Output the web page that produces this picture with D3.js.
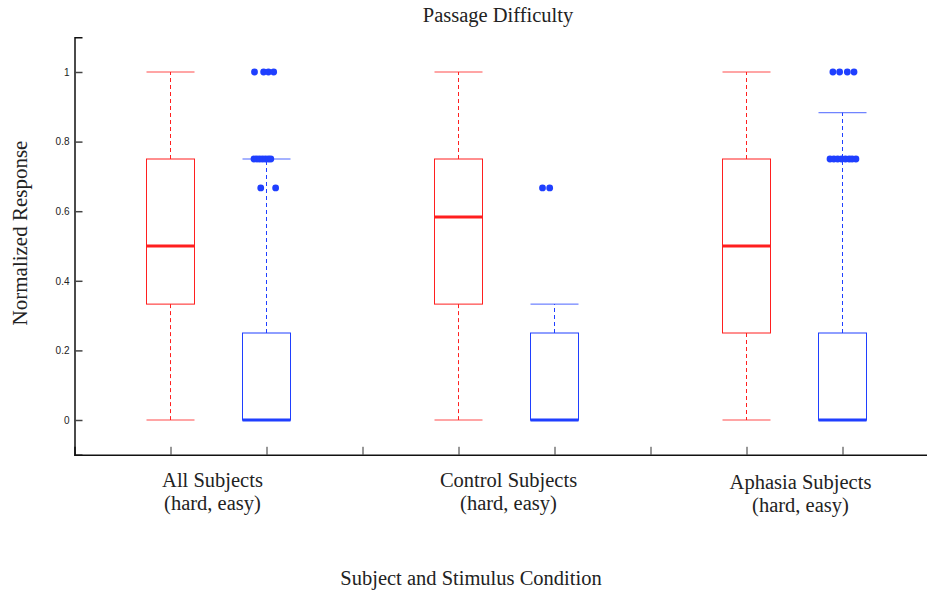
<!DOCTYPE html>
<html>
<head>
<meta charset="utf-8">
<script src="https://cdn.jsdelivr.net/npm/d3@7"></script>
<style>
  html, body { margin: 0; padding: 0; background: #fff; }
  svg { display: block; }
</style>
</head>
<body>
<svg id="chart" width="927" height="590"></svg>
<script>
// ---- Data ----
const groupLabels = ["All Subjects", "Control Subjects", "Aphasia Subjects"];
const groupSubLabel = "(hard, easy)";
const conditions = ["hard", "easy"];
// box positions on the x axis (category units)
const boxPositions = [1, 2, 4, 5, 7, 8];
const boxCondition = ["hard", "easy", "hard", "easy", "hard", "easy"];
const whiskerLow  = [0, 0, 0, 0, 0, 0];
const q1          = [0.333, 0, 0.333, 0, 0.25, 0];
const medians     = [0.5, 0, 0.583, 0, 0.5, 0];
const q3          = [0.75, 0.25, 0.75, 0.25, 0.75, 0.25];
const whiskerHigh = [1, 0.75, 1, 0.333, 1, 0.883];
// outliers: [box index, value, jitter (category units)]
const outlierBox    = [1,1,1,1, 1,1,1,1,1,1,1, 1,1, 3,3, 5,5,5,5, 5,5,5,5,5,5,5,5];
const outlierValue  = [1,1,1,1, 0.75,0.75,0.75,0.75,0.75,0.75,0.75, 0.667,0.667, 0.667,0.667, 1,1,1,1, 0.75,0.75,0.75,0.75,0.75,0.75,0.75,0.75];
const outlierJitter = [-0.125,-0.03,0.02,0.075, -0.13,-0.1,-0.07,-0.04,-0.01,0.02,0.045, -0.06,0.095, -0.125,-0.05, -0.1,-0.03,0.05,0.12, -0.13,-0.09,-0.05,-0.01,0.03,0.07,0.1,0.14];
const xTickValues = [1, 2, 3, 4, 5, 6, 7, 8];
const yTickValues = [0, 0.2, 0.4, 0.6, 0.8, 1];
const yTickLabels = ["0", "0.2", "0.4", "0.6", "0.8", "1"];
const title = "Passage Difficulty";
const xTitle = "Subject and Stimulus Condition";
const yTitle = "Normalized Response";

// ---- Setup ----
const svg = d3.select("#chart");
const colors = { hard: "#ff1f1f", easy: "#1f3fff" };
const x = d3.scaleLinear().domain([0, 9]).range([74.5, 938.5]);
const y = d3.scaleLinear().domain([-0.1, 1.1]).range([454.8, 37.2]);
const halfW = 0.25;
const serif = "'Liberation Serif', 'Times New Roman', serif";

// axes
const yAxis = d3.axisLeft(y).tickValues(yTickValues)
  .tickFormat((d, i) => yTickLabels[i]).tickSize(-8).tickPadding(5);
const gy = svg.append("g").attr("transform", `translate(${x(0)},0)`).call(yAxis);
gy.select(".domain").attr("stroke", "#111").attr("stroke-width", 1.5);
gy.selectAll(".tick line").attr("stroke", "#444").attr("stroke-width", 1.5);
gy.selectAll(".tick text").attr("font-family", "Arial, 'Liberation Sans', sans-serif")
  .attr("font-size", 10).attr("fill", "#222");

const xAxis = d3.axisBottom(x).tickValues(xTickValues).tickFormat("").tickSize(-8);
const gx = svg.append("g").attr("transform", `translate(0,${y(-0.1)})`).call(xAxis);
gx.select(".domain").attr("stroke", "#111").attr("stroke-width", 1.5);
gx.selectAll(".tick line").attr("stroke", "#333").attr("stroke-width", 1);

// boxes
const boxes = boxPositions.map((p, i) => ({
  p, c: colors[boxCondition[i]], lo: whiskerLow[i], q1: q1[i], med: medians[i], q3: q3[i], hi: whiskerHigh[i]
}));
const bg = svg.append("g");
boxes.forEach(b => {
  const g = bg.append("g").attr("stroke", b.c).attr("fill", "none");
  // whiskers
  if (b.hi > b.q3) g.append("line").attr("x1", x(b.p)).attr("x2", x(b.p))
    .attr("y1", y(b.q3)).attr("y2", y(b.hi)).attr("stroke-dasharray", "4,3");
  if (b.lo < b.q1) g.append("line").attr("x1", x(b.p)).attr("x2", x(b.p))
    .attr("y1", y(b.q1)).attr("y2", y(b.lo)).attr("stroke-dasharray", "4,3");
  // caps
  [b.lo, b.hi].forEach(v => g.append("line")
    .attr("x1", x(b.p - halfW)).attr("x2", x(b.p + halfW))
    .attr("y1", y(v)).attr("y2", y(v)).attr("stroke-width", 1).attr("stroke-opacity", 0.8));
  // box
  g.append("rect").attr("x", x(b.p - halfW)).attr("width", x(b.p + halfW) - x(b.p - halfW))
    .attr("y", y(b.q3)).attr("height", y(b.q1) - y(b.q3)).attr("stroke-width", 1);
  // median
  g.append("line").attr("x1", x(b.p - halfW)).attr("x2", x(b.p + halfW))
    .attr("y1", y(b.med)).attr("y2", y(b.med)).attr("stroke-width", 3);
});

// outliers
svg.append("g").selectAll("circle")
  .data(outlierBox.map((bi, i) => ({ bi, v: outlierValue[i], j: outlierJitter[i] })))
  .join("circle")
  .attr("cx", d => x(boxPositions[d.bi] + d.j))
  .attr("cy", d => y(d.v))
  .attr("r", 3.4)
  .attr("fill", d => colors[boxCondition[d.bi]]);

// group labels
const labelCenters = [1.5, 4.5, 7.5];
const labelXOffsets = [-6, 2, 6];
const labelYOffsets = [0, 0, 2];
groupLabels.forEach((lab, i) => {
  const cx = x(labelCenters[i]) + labelXOffsets[i];
  const t = svg.append("text").attr("text-anchor", "middle")
    .attr("font-family", serif).attr("font-size", 20.5).attr("fill", "#222");
  t.append("tspan").attr("x", cx).attr("y", 487 + labelYOffsets[i]).text(lab);
  t.append("tspan").attr("x", cx).attr("y", 510 + labelYOffsets[i]).text(groupSubLabel);
});

// titles
svg.append("text").attr("x", 498).attr("y", 21.5).attr("text-anchor", "middle")
  .attr("font-family", serif).attr("font-size", 20.5).attr("fill", "#222").text(title);
svg.append("text").attr("x", 471).attr("y", 585).attr("text-anchor", "middle")
  .attr("font-family", serif).attr("font-size", 20.5).attr("fill", "#222").text(xTitle);
svg.append("text").attr("transform", "translate(27,233) rotate(-90)").attr("text-anchor", "middle")
  .attr("font-family", serif).attr("font-size", 21).attr("fill", "#222").text(yTitle);
</script>
</body>
</html>
